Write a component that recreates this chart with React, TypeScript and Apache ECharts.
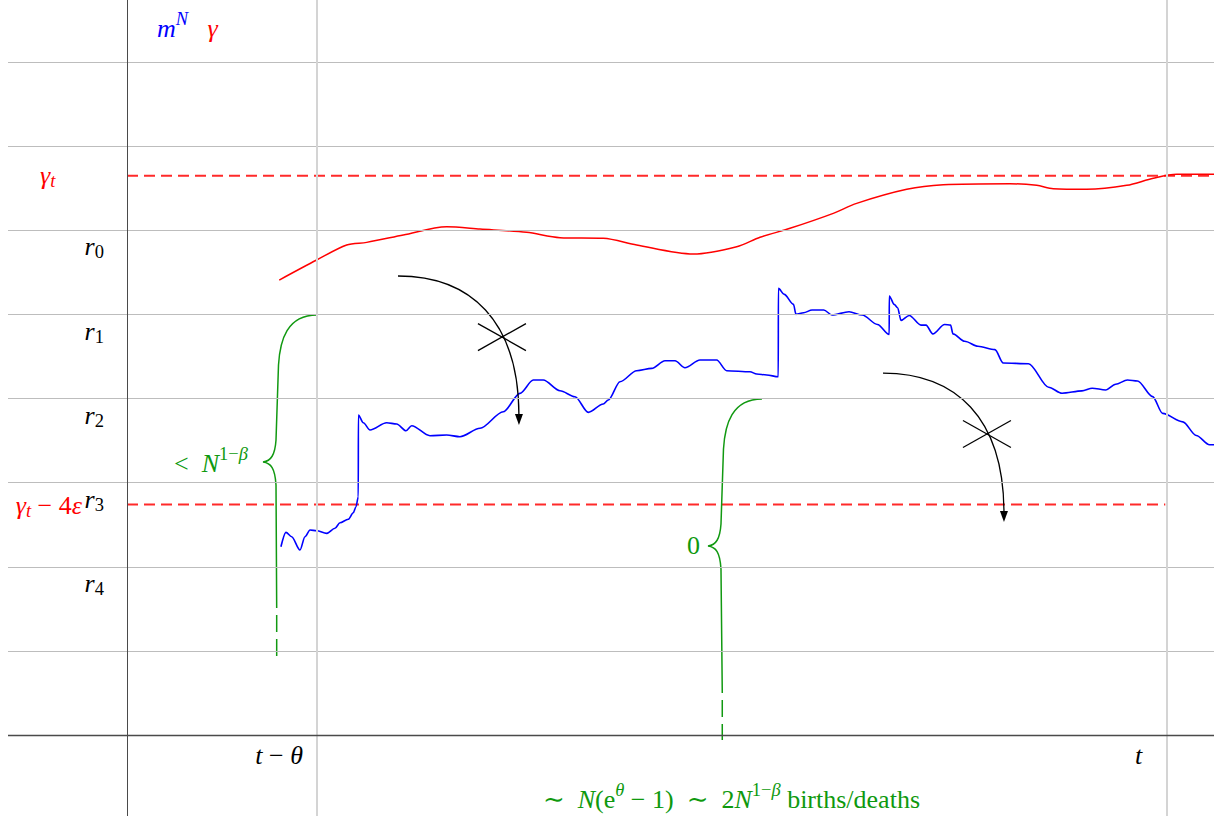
import React, { useEffect, useRef } from "react";
import * as echarts from "echarts";

// ---------- data (x: time, t−θ = 0 and t = 10; y: level index of the r_k grid) ----------
const GRID_LEVELS = [1, 2, 3, 4, 5, 6, 7, 8];
const TIME_MARKS = [0, 10]; // t − θ, t
const AXIS_X = -2.235;
const AXIS_Y = 0;

const GAMMA_T_LEVEL = 6.65;
const GAMMA_T_MINUS_LEVEL = 2.741;
const GAMMA_T_SPAN = [-2.235, 10.553];
const GAMMA_T_MINUS_SPAN = [-2.235, 9.98];

const GAMMA_PATH = [
  [-0.444, 5.41], [-0.004, 5.648], [0.349, 5.826], [0.585, 5.858], [1.015, 5.945],
  [1.526, 6.044], [1.918, 6.017], [2.467, 5.977], [2.859, 5.913], [3.368, 5.906],
  [3.761, 5.826], [4.427, 5.719], [4.938, 5.806], [5.212, 5.918], [5.565, 6.025],
  [6.074, 6.203], [6.349, 6.322], [6.938, 6.489], [7.368, 6.543], [8.153, 6.555],
  [8.467, 6.536], [8.662, 6.496], [9.055, 6.489], [9.526, 6.536], [9.839, 6.62],
  [10.114, 6.667], [10.553, 6.667],
];

const M_PATH = [
  [-0.424, 2.239], [-0.365, 2.41], [-0.298, 2.358], [-0.2, 2.2], [-0.141, 2.358],
  [-0.082, 2.438], [-0.004, 2.429], [0.114, 2.398], [0.212, 2.458], [0.271, 2.524],
  [0.368, 2.565], [0.427, 2.643], [0.459, 2.715], [0.486, 2.834],
  [0.487, 3.805], [0.545, 3.713], [0.624, 3.627], [0.82, 3.713], [0.938, 3.698],
  [1.047, 3.618], [1.114, 3.678], [1.329, 3.559], [1.526, 3.567], [1.682, 3.547],
  [1.918, 3.647], [2.192, 3.844], [2.388, 4.063], [2.545, 4.221], [2.662, 4.221],
  [2.859, 4.094], [3.035, 4.023], [3.192, 3.837], [3.368, 3.936], [3.427, 3.983],
  [3.565, 4.201], [3.761, 4.332], [3.938, 4.36], [4.094, 4.451], [4.212, 4.451],
  [4.329, 4.367], [4.506, 4.459], [4.702, 4.459], [4.82, 4.332], [5.094, 4.32],
  [5.173, 4.293], [5.291, 4.281], [5.427, 4.26],
  [5.428, 5.311], [5.497, 5.24], [5.606, 5.121], [5.635, 5.002], [5.725, 5.021],
  [5.824, 5.054], [5.962, 5.054], [6.059, 4.994], [6.259, 5.033], [6.415, 4.994],
  [6.594, 4.882], [6.732, 4.762],
  [6.733, 5.221], [6.79, 5.121], [6.831, 5.081], [6.871, 4.93], [6.968, 4.989],
  [7.106, 4.874], [7.165, 4.874], [7.245, 4.77], [7.384, 4.882], [7.454, 4.874],
  [7.482, 4.77], [7.62, 4.682], [7.776, 4.623], [7.976, 4.583], [8.074, 4.423],
  [8.371, 4.415], [8.607, 4.136], [8.765, 4.064], [9.0, 4.092], [9.12, 4.124],
  [9.278, 4.103], [9.396, 4.171], [9.535, 4.222], [9.653, 4.21], [9.831, 4.024],
  [9.949, 3.824], [10.186, 3.724], [10.344, 3.562], [10.501, 3.451], [10.553, 3.451],
];

// arrows: start, control 1, control 2, end (tip)
const ARROW_CURVES = [
  [[0.953, 5.458], [1.8, 5.458], [2.376, 4.935], [2.376, 3.686]],
  [[6.659, 4.304], [7.506, 4.304], [8.082, 3.781], [8.082, 2.533]],
];
const ARROW_CROSSES = [
  [2.176, 4.732],
  [7.882, 3.579],
];

// braces: top end, tip, end of solid stem, end of dashed stem
const BRACE_TOPS = [[0, 4.994], [5.235, 3.995]];
const BRACE_TIPS = [[-0.635, 3.246], [4.6, 2.247]];
const BRACE_ENDS = [[-0.474, 1.51], [4.768, 0.499]];
const BRACE_DASH_ENDS = [[-0.474, 0.931], [4.768, -0.059]];

// labels
const LABEL_TEXTS = [
  "{bi|m}{bsi|N}   {ri|γ}",
  "{ri|γ}{rdi|t}",
  "{ki|r}{kdn|0}",
  "{ki|r}{kdn|1}",
  "{ki|r}{kdn|2}",
  "{ki|r}{kdn|3}",
  "{ki|r}{kdn|4}",
  "{ri|γ}{rdi|t}{rn| − 4}{ri|ε}",
  "{gn|<}  {gi|N}{gsn|1−}{gsi|β}",
  "{gn|0}",
  "{ki|t}{kn| − }{ki|θ}",
  "{ki|t}",
  "{gn|∼  }{gi|N}{gn|(e}{gsi|θ}{gn| − 1)  ∼  2}{gi|N}{gsn|1−}{gsi|β}{gn| births/deaths}",
];
const LABEL_ANCHORS = [
  [-1.882, 8.401],
  [-3.259, 6.659],
  [-2.506, 5.803],
  [-2.506, 4.804],
  [-2.506, 3.805],
  [-2.506, 2.806],
  [-2.506, 1.807],
  [-2.765, 2.735],
  [-0.812, 3.234],
  [4.506, 2.259],
  [-0.165, -0.244],
  [9.665, -0.244],
  [4.876, -0.761],
];
const LABEL_ALIGNS = [
  "left", "left", "right", "right", "right", "right", "right",
  "right", "right", "right", "right", "center", "center",
];
const LABEL_SUP = [true, false, false, false, false, false, false, false, true, false, false, false, true];

// ---------- styles ----------
const FONT = "'Liberation Serif', 'DejaVu Serif', serif";
const MAIN_SIZE = 26;
const SCRIPT_SIZE = 18.5;
const COLORS: Record<string, string> = { k: "#000000", r: "#ff0000", b: "#0000ff", g: "#0e990e" };
const RED = "#ff0000";
const BLUE = "#0000ff";
const GREEN = "#119911";

function makeRich(L: number) {
  const rich: Record<string, any> = {};
  for (const c of Object.keys(COLORS)) {
    const fill = COLORS[c];
    const base = { fill, fontFamily: FONT };
    rich[c + "i"] = { ...base, fontStyle: "italic", fontSize: MAIN_SIZE, lineHeight: L };
    rich[c + "n"] = { ...base, fontStyle: "normal", fontSize: MAIN_SIZE, lineHeight: L };
    rich[c + "si"] = { ...base, fontStyle: "italic", fontSize: SCRIPT_SIZE, lineHeight: SCRIPT_SIZE, verticalAlign: "top" };
    rich[c + "sn"] = { ...base, fontStyle: "normal", fontSize: SCRIPT_SIZE, lineHeight: SCRIPT_SIZE, verticalAlign: "top" };
    rich[c + "di"] = { ...base, fontStyle: "italic", fontSize: SCRIPT_SIZE, lineHeight: SCRIPT_SIZE, verticalAlign: "bottom" };
    rich[c + "dn"] = { ...base, fontStyle: "normal", fontSize: SCRIPT_SIZE, lineHeight: SCRIPT_SIZE, verticalAlign: "bottom" };
  }
  return rich;
}
const RICH_SUP = makeRich(38);
const RICH_SUB = makeRich(30);

function f(n: number) {
  return n.toFixed(2);
}

export default function App() {
  const ref = useRef<HTMLDivElement>(null);

  useEffect(() => {
    if (!ref.current) return;
    const chart = echarts.init(ref.current, null, { renderer: "svg" });

    const straightLines: any[] = [
      ...GRID_LEVELS.map((v) => ({ yAxis: v, lineStyle: { color: "#bdbdbd", width: 1, type: "solid" } })),
      ...TIME_MARKS.map((v) => ({ xAxis: v, lineStyle: { color: "#d4d4d4", width: 2, type: "solid" } })),
      { xAxis: AXIS_X, lineStyle: { color: "#4a4a4a", width: 1, type: "solid" } },
      { yAxis: AXIS_Y, lineStyle: { color: "#4a4a4a", width: 1.3, type: "solid" } },
    ];

    const dashStyle = { color: "#ff2a2a", width: 1.8, type: [11, 6] };

    const option: any = {
      animation: false,
      backgroundColor: "#ffffff",
      grid: { left: 8, right: 0, top: 0, bottom: 0 },
      xAxis: { type: "value", min: -3.635, max: 10.553, show: false },
      yAxis: { type: "value", min: -0.963, max: 8.74, show: false },
      series: [
        {
          type: "line",
          data: [],
          silent: true,
          z: 1,
          markLine: {
            silent: true,
            symbol: "none",
            label: { show: false },
            emphasis: { disabled: true },
            data: straightLines,
          },
        },
        {
          type: "line",
          data: [[GAMMA_T_SPAN[0], GAMMA_T_LEVEL], [GAMMA_T_SPAN[1], GAMMA_T_LEVEL]],
          showSymbol: false,
          silent: true,
          z: 2,
          lineStyle: dashStyle,
        },
        {
          type: "line",
          data: [[GAMMA_T_MINUS_SPAN[0], GAMMA_T_MINUS_LEVEL], [GAMMA_T_MINUS_SPAN[1], GAMMA_T_MINUS_LEVEL]],
          showSymbol: false,
          silent: true,
          z: 2,
          lineStyle: dashStyle,
        },
        {
          type: "line",
          data: GAMMA_PATH,
          showSymbol: false,
          smooth: 0.3,
          silent: true,
          z: 3,
          lineStyle: { color: RED, width: 1.5 },
        },
        {
          type: "line",
          data: M_PATH,
          showSymbol: false,
          smooth: 0.3,
          smoothMonotone: "x",
          silent: true,
          z: 3,
          lineStyle: { color: BLUE, width: 1.6 },
        },
        {
          type: "custom",
          silent: true,
          z: 4,
          data: ARROW_CURVES.map((a) => a[0]),
          renderItem: (params: any, api: any) => {
            const i = params.dataIndex;
            const [p0, p1, p2, p3] = ARROW_CURVES[i].map((p) => api.coord(p));
            const c = api.coord(ARROW_CROSSES[i]);
            let dx = p3[0] - p2[0];
            let dy = p3[1] - p2[1];
            const len = Math.hypot(dx, dy) || 1;
            dx /= len;
            dy /= len;
            const HL = 11;
            const HW = 4;
            const bx = p3[0] - dx * HL;
            const by = p3[1] - dy * HL;
            const stroke = { stroke: "#000000", lineWidth: 1.3, fill: "none" };
            return {
              type: "group",
              children: [
                {
                  type: "bezierCurve",
                  shape: { x1: p0[0], y1: p0[1], cpx1: p1[0], cpy1: p1[1], cpx2: p2[0], cpy2: p2[1], x2: bx + dx * 2, y2: by + dy * 2 },
                  style: stroke,
                },
                {
                  type: "polygon",
                  shape: { points: [[p3[0], p3[1]], [bx - dy * HW, by + dx * HW], [bx + dy * HW, by - dx * HW]] },
                  style: { fill: "#000000", stroke: "none" },
                },
                { type: "line", shape: { x1: c[0] - 24, y1: c[1] - 13.5, x2: c[0] + 24, y2: c[1] + 13.5 }, style: stroke },
                { type: "line", shape: { x1: c[0] - 24, y1: c[1] + 13.5, x2: c[0] + 24, y2: c[1] - 13.5 }, style: stroke },
              ],
            };
          },
        },
        {
          type: "custom",
          silent: true,
          z: 4,
          data: BRACE_TOPS,
          renderItem: (params: any, api: any) => {
            const i = params.dataIndex;
            const T = api.coord(BRACE_TOPS[i]);
            const P = api.coord(BRACE_TIPS[i]);
            const E = api.coord(BRACE_ENDS[i]);
            const D = api.coord(BRACE_DASH_ENDS[i]);
            const w = P[0] - T[0];
            const h = P[1] - T[1];
            const X = (k: number) => f(T[0] + k * w);
            const Y = (k: number) => f(T[1] + k * h);
            const d =
              `M${f(T[0])} ${f(T[1])} ` +
              `C${X(0.556)} ${Y(0)} ${X(0.685)} ${Y(0.17)} ${X(0.713)} ${Y(0.34)} ` +
              `L${X(0.759)} ${Y(0.85)} ` +
              `C${X(0.778)} ${Y(0.952)} ${X(0.852)} ${Y(0.993)} ${f(P[0])} ${f(P[1])} ` +
              `C${X(0.852)} ${Y(1.007)} ${X(0.778)} ${Y(1.041)} ${X(0.759)} ${Y(1.156)} ` +
              `L${f(E[0])} ${f(E[1])}`;
            return {
              type: "group",
              children: [
                { type: "path", shape: { pathData: d }, style: { stroke: GREEN, lineWidth: 1.5, fill: "none" } },
                {
                  type: "line",
                  shape: { x1: E[0], y1: E[1], x2: D[0], y2: D[1] },
                  style: { stroke: GREEN, lineWidth: 1.5, lineDash: [17, 7], lineDashOffset: 17 },
                },
              ],
            };
          },
        },
        {
          type: "custom",
          silent: true,
          z: 5,
          data: LABEL_ANCHORS,
          renderItem: (params: any, api: any) => {
            const i = params.dataIndex;
            const p = api.coord(LABEL_ANCHORS[i]);
            return {
              type: "text",
              x: p[0],
              y: p[1],
              style: {
                text: LABEL_TEXTS[i],
                rich: LABEL_SUP[i] ? RICH_SUP : RICH_SUB,
                align: LABEL_ALIGNS[i],
                verticalAlign: "middle",
                fontFamily: FONT,
                fontSize: MAIN_SIZE,
                fill: "#000000",
              },
            };
          },
        },
      ],
    };

    chart.setOption(option);
    return () => {
      chart.dispose();
    };
  }, []);

  return (
    <div
      ref={ref}
      style={{ position: "fixed", left: 0, top: 0, width: 1214, height: 816, background: "#ffffff" }}
    />
  );
}
